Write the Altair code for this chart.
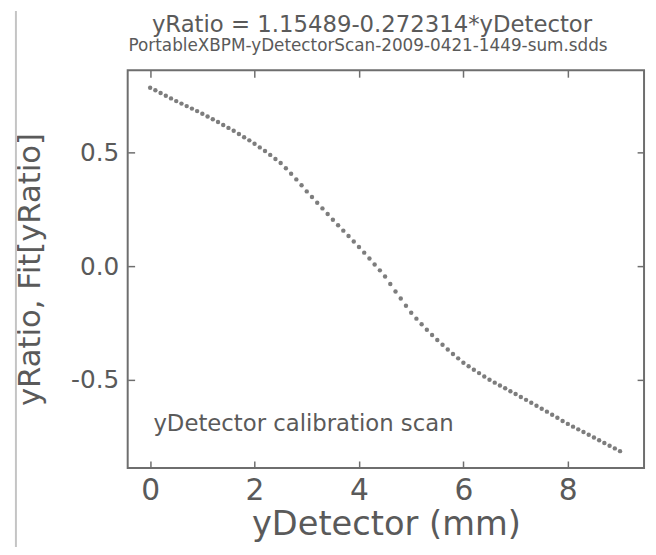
import altair as alt
import pandas as pd

title_text = "yRatio = 1.15489-0.272314*yDetector"
subtitle_text = "PortableXBPM-yDetectorScan-2009-0421-1449-sum.sdds"
x_title = "yDetector (mm)"
y_title = "yRatio, Fit[yRatio]"
annotation = "yDetector calibration scan"

x_ticks = [0, 2, 4, 6, 8]
y_ticks = [-0.5, 0.0, 0.5]

y_detector = [
    0.0, 0.1, 0.2, 0.3, 0.4, 0.5, 0.6, 0.7, 0.8, 0.9,
    1.0, 1.1, 1.2, 1.3, 1.4, 1.5, 1.6, 1.7, 1.8, 1.9,
    2.0, 2.1, 2.2, 2.3, 2.4, 2.5, 2.6, 2.7, 2.8, 2.9,
    3.0, 3.1, 3.2, 3.3, 3.4, 3.5, 3.6, 3.7, 3.8, 3.9,
    4.0, 4.1, 4.2, 4.3, 4.4, 4.5, 4.6, 4.7, 4.8, 4.9,
    5.0, 5.1, 5.2, 5.3, 5.4, 5.5, 5.6, 5.7, 5.8, 5.9,
    6.0, 6.1, 6.2, 6.3, 6.4, 6.5, 6.6, 6.7, 6.8, 6.9,
    7.0, 7.1, 7.2, 7.3, 7.4, 7.5, 7.6, 7.7, 7.8, 7.9,
    8.0, 8.1, 8.2, 8.3, 8.4, 8.5, 8.6, 8.7, 8.8, 8.9,
    9.0,
]
y_ratio = [
    0.787, 0.776, 0.764, 0.752, 0.740, 0.728, 0.717, 0.706, 0.695, 0.684,
    0.672, 0.660, 0.648, 0.636, 0.623, 0.610, 0.597, 0.583, 0.569, 0.555,
    0.540, 0.524, 0.508, 0.491, 0.473, 0.455, 0.432, 0.408, 0.383, 0.357,
    0.330, 0.305, 0.280, 0.255, 0.230, 0.205, 0.181, 0.157, 0.133, 0.109,
    0.085, 0.060, 0.034, 0.008, -0.018, -0.045, -0.078, -0.111, -0.142, -0.174,
    -0.205, -0.231, -0.256, -0.280, -0.303, -0.325, -0.346, -0.367, -0.387, -0.406,
    -0.425, -0.441, -0.456, -0.471, -0.486, -0.500, -0.513, -0.526, -0.538, -0.551,
    -0.563, -0.576, -0.589, -0.602, -0.615, -0.628, -0.641, -0.655, -0.668, -0.682,
    -0.695, -0.707, -0.719, -0.731, -0.743, -0.755, -0.767, -0.779, -0.791, -0.803,
    -0.815,
]

df = pd.DataFrame({"yDetector": y_detector, "yRatio": y_ratio})

FONT = "DejaVu Sans"
TXT = "#5a5a5a"
LINE = "#6e6e6e"

xscale = alt.Scale(domain=[-0.43, 9.46], nice=False, zero=False)
yscale = alt.Scale(domain=[-0.889, 0.864], nice=False, zero=False)

points = alt.Chart(df).mark_circle(size=20, color="#666666", opacity=0.85).encode(
    x=alt.X("yDetector:Q", scale=xscale,
            axis=alt.Axis(orient="bottom", values=x_ticks, format="d", offset=-7,
                          domain=False, grid=False, tickSize=7, tickColor=LINE,
                          tickWidth=1.5, labelFont=FONT, labelFontSize=30,
                          labelColor=TXT, labelPadding=8, labelOverlap=False,
                          title=x_title, titleFont=FONT, titleFontSize=34,
                          titleFontWeight="normal", titleColor=TXT, titlePadding=2)),
    y=alt.Y("yRatio:Q", scale=yscale,
            axis=alt.Axis(orient="left", values=y_ticks, format=".1f", offset=-7,
                          labelExpr="replace(datum.label, '\u2212', '-')",
                          domain=False, grid=False, tickSize=7, tickColor=LINE,
                          tickWidth=1.5, labelFont=FONT, labelFontSize=25,
                          labelColor=TXT, labelPadding=9, labelOverlap=False,
                          title=y_title, titleFont=FONT, titleFontSize=31,
                          titleFontWeight="normal", titleColor=TXT, titlePadding=24)),
)

frame_axes = alt.Chart(df).mark_circle(opacity=0).encode(
    x=alt.X("yDetector:Q", scale=xscale,
            axis=alt.Axis(orient="top", values=x_ticks, offset=-7, domain=False,
                          grid=False, labels=False, tickSize=7, tickColor=LINE,
                          tickWidth=1.5, title=None)),
    y=alt.Y("yRatio:Q", scale=yscale,
            axis=alt.Axis(orient="right", values=y_ticks, offset=-7, domain=False,
                          grid=False, labels=False, tickSize=7, tickColor=LINE,
                          tickWidth=1.5, title=None)),
)

title_main = alt.Chart(pd.DataFrame({"label": [title_text]})).mark_text(
    align="center", baseline="alphabetic", font=FONT, fontSize=23, color=TXT
).encode(x=alt.value(247), y=alt.value(-39), text="label:N")
title_sub = alt.Chart(pd.DataFrame({"label": [subtitle_text]})).mark_text(
    align="center", baseline="alphabetic", font=FONT, fontSize=17, color=TXT
).encode(x=alt.value(243), y=alt.value(-19), text="label:N")

note = alt.Chart(pd.DataFrame({"label": [annotation]})).mark_text(
    align="left", baseline="alphabetic", font=FONT, fontSize=23, color=TXT
).encode(x=alt.value(26), y=alt.value(365), text="label:N")

edge = alt.Chart(pd.DataFrame({"a": [0]})).mark_rule(color="#c4c4c4", strokeWidth=2).encode(
    x=alt.value(-113), y=alt.value(-60), y2=alt.value(487)
)

chart = alt.layer(points, frame_axes, note, title_main, title_sub, edge).resolve_axis(
    x="independent", y="independent"
).properties(
    width=522,
    height=402,
    autosize=alt.AutoSizeParams(type="none"),
    padding={"left": 121, "top": 60, "right": 4, "bottom": 77},
    background="white",
).configure_view(stroke=LINE, strokeWidth=2)

chart.save("out.html", embed_options={"renderer": "svg", "actions": False})
